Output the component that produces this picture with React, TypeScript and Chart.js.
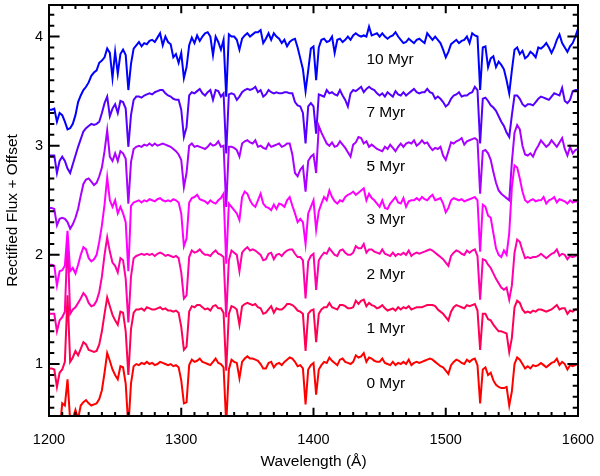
import React, { useEffect, useRef } from 'react';
import { Chart, registerables } from 'chart.js';

Chart.register(...registerables);

// Wavelength grid (Å): first sample and spacing
const LAMBDA_START = 1200;
const LAMBDA_STEP = 2;

const AGES = ['0 Myr', '1 Myr', '2 Myr', '3 Myr', '5 Myr', '7 Myr', '10 Myr'];
const OFFSETS = [0, 0.5, 1.0, 1.5, 2.0, 2.5, 3.0];
const COLORS = ['#ff0000', '#ff0055', '#ff00aa', '#ff00ff', '#aa00ff', '#5500ff', '#0000ff'];

const LABEL_X = 1440;
const LABEL_Y = [0.82, 1.32, 1.815, 2.32, 2.81, 3.3, 3.79];

const X_RANGE = [1200, 1600];
const Y_RANGE = [0.524, 4.289];
const X_TICKS = [1200, 1300, 1400, 1500, 1600];
const Y_TICKS = [1, 2, 3, 4];
const X_MINOR_STEP = 10;
const Y_MINOR_STEP = 0.1;

// Rectified flux, one value every 2 Å from 1200 to 1600 Å (rows of 20 Å)
const FLUX_0MYR = [
  0.30, 0.30, 0.30, 0.32, 0.38, 0.64, 0.62, 0.86, 0.48, 0.50,
  0.58, 0.50, 0.62, 0.65, 0.67, 0.64, 0.62, 0.63, 0.64, 0.68,
  0.76, 0.92, 1.10, 1.03, 0.95, 0.90, 0.86, 0.98, 0.97, 0.82,
  0.42, 0.82, 0.98, 1.00, 0.99, 1.01, 1.00, 1.02, 1.00, 1.01,
  0.99, 1.00, 1.02, 1.01, 1.00, 0.99, 1.00, 0.98, 0.99, 0.97,
  0.85, 0.64, 0.65, 0.99, 1.04, 1.02, 1.03, 1.05, 1.02, 1.01,
  1.00, 0.99, 1.02, 1.05, 1.01, 1.00, 0.97, 0.45, 0.95, 1.04,
  1.02, 1.01, 0.87, 1.02, 1.05, 1.07, 1.05, 1.05, 1.04, 1.03,
  1.00, 0.96, 0.96, 1.01, 1.02, 0.97, 1.00, 1.01, 0.99, 1.02,
  1.04, 1.06, 1.05, 1.02, 0.98, 0.99, 0.96, 0.63, 0.95, 0.99,
  1.01, 0.72, 0.95, 0.99, 1.02, 1.01, 1.06, 1.03, 1.01, 0.99,
  1.04, 1.05, 1.02, 1.01, 1.00, 1.02, 1.08, 1.06, 1.07, 1.10,
  1.02, 1.06, 1.05, 1.03, 1.02, 1.02, 1.05, 1.01, 1.00, 0.99,
  1.02, 0.99, 1.01, 1.00, 1.02, 1.00, 1.04, 0.99, 1.01, 1.02,
  1.01, 1.02, 1.03, 1.04, 1.05, 1.04, 1.02, 1.00, 0.98, 0.97,
  0.94, 0.91, 0.99, 1.02, 1.04, 1.03, 1.01, 1.00, 1.04, 1.02,
  1.04, 1.05, 0.99, 0.64, 0.95, 0.97, 0.90, 0.92, 0.85, 0.81,
  0.79, 0.78, 0.78, 0.79, 0.62, 0.75, 1.00, 1.06, 1.04, 1.00,
  0.96, 0.98, 0.96, 0.99, 0.98, 0.99, 1.01, 0.99, 0.97, 0.99,
  1.01, 1.02, 1.05, 0.99, 1.02, 1.00, 0.95, 0.99, 0.98, 0.99,
  1.00,
];

const FLUX_1MYR = [
  0.46, 0.46, 0.45, 0.29, 0.42, 0.45, 0.52, 1.13, 0.52, 0.56,
  0.62, 0.58, 0.64, 0.70, 0.68, 0.63, 0.62, 0.61, 0.62, 0.68,
  0.80, 0.96, 1.11, 1.03, 0.95, 0.90, 0.86, 0.98, 0.97, 0.80,
  0.40, 0.82, 0.97, 1.00, 1.00, 1.01, 0.99, 1.02, 1.01, 1.00,
  1.00, 1.01, 1.02, 1.00, 1.01, 0.99, 0.99, 0.98, 0.99, 0.97,
  0.84, 0.63, 0.66, 0.98, 1.03, 1.02, 1.04, 1.04, 1.02, 1.00,
  1.01, 0.99, 1.03, 1.04, 1.01, 1.01, 0.97, 0.44, 0.96, 1.03,
  1.02, 1.00, 0.86, 1.03, 1.05, 1.06, 1.05, 1.04, 1.05, 1.02,
  1.01, 0.96, 0.97, 1.00, 1.03, 0.97, 1.01, 1.00, 1.00, 1.02,
  1.05, 1.05, 1.04, 1.02, 0.99, 0.98, 0.96, 0.62, 0.96, 0.99,
  1.00, 0.70, 0.96, 1.00, 1.02, 1.02, 1.06, 1.02, 1.01, 1.00,
  1.04, 1.04, 1.03, 1.01, 1.01, 1.02, 1.08, 1.05, 1.08, 1.09,
  1.03, 1.06, 1.04, 1.03, 1.01, 1.02, 1.04, 1.01, 0.99, 1.00,
  1.01, 0.99, 1.02, 1.00, 1.02, 1.01, 1.03, 1.00, 1.01, 1.02,
  1.02, 1.02, 1.03, 1.04, 1.04, 1.04, 1.03, 1.00, 0.98, 0.96,
  0.93, 0.90, 0.98, 1.02, 1.04, 1.03, 1.02, 1.01, 1.04, 1.03,
  1.04, 1.05, 0.99, 0.63, 0.96, 0.96, 0.91, 0.90, 0.86, 0.83,
  0.80, 0.80, 0.79, 0.78, 0.61, 0.74, 1.02, 1.08, 1.06, 1.00,
  0.97, 0.98, 0.97, 0.99, 0.98, 1.00, 1.00, 0.99, 0.98, 0.99,
  1.00, 1.02, 1.04, 1.00, 1.01, 1.01, 0.96, 0.99, 0.98, 1.00,
  1.00,
];

const FLUX_2MYR = [
  0.46, 0.46, 0.46, 0.30, 0.40, 0.43, 0.48, 1.14, 0.46, 0.50,
  0.52, 0.56, 0.60, 0.65, 0.62, 0.56, 0.53, 0.54, 0.58, 0.66,
  0.80, 1.00, 1.16, 1.03, 0.93, 0.90, 0.84, 0.97, 0.95, 0.78,
  0.38, 0.80, 0.97, 0.99, 1.00, 1.01, 1.00, 1.01, 1.00, 1.01,
  0.99, 1.01, 1.02, 1.01, 0.99, 1.00, 0.99, 0.98, 0.99, 0.97,
  0.84, 0.60, 0.63, 0.98, 1.04, 1.02, 1.03, 1.05, 1.02, 1.00,
  1.00, 0.99, 1.02, 1.04, 1.01, 1.00, 0.98, 0.43, 0.95, 1.04,
  1.02, 1.00, 0.85, 1.02, 1.05, 1.07, 1.04, 1.05, 1.04, 1.02,
  1.00, 0.95, 0.96, 1.01, 1.02, 0.96, 1.00, 1.01, 0.99, 1.02,
  1.04, 1.05, 1.05, 1.01, 0.98, 0.98, 0.95, 0.60, 0.94, 0.99,
  1.01, 0.68, 0.95, 0.99, 1.02, 1.01, 1.06, 1.03, 1.00, 0.99,
  1.04, 1.05, 1.02, 1.00, 1.00, 1.02, 1.08, 1.06, 1.06, 1.10,
  1.02, 1.05, 1.05, 1.03, 1.02, 1.01, 1.05, 1.01, 1.00, 0.99,
  1.02, 0.99, 1.01, 1.00, 1.02, 1.00, 1.04, 0.99, 1.01, 1.02,
  1.01, 1.02, 1.03, 1.04, 1.05, 1.04, 1.02, 1.00, 0.98, 0.96,
  0.93, 0.90, 0.99, 1.02, 1.04, 1.03, 1.01, 1.00, 1.04, 1.02,
  1.04, 1.05, 0.99, 0.59, 0.96, 0.95, 0.91, 0.88, 0.83, 0.78,
  0.74, 0.70, 0.68, 0.70, 0.59, 0.72, 1.02, 1.14, 1.12, 1.04,
  0.97, 0.98, 0.97, 0.98, 0.98, 0.99, 1.01, 0.99, 0.97, 0.99,
  1.01, 1.02, 1.05, 0.99, 1.01, 1.00, 0.96, 0.99, 0.98, 0.99,
  1.00,
];

const FLUX_3MYR = [
  0.41, 0.41, 0.40, 0.22, 0.35, 0.36, 0.40, 0.72, 0.35, 0.38,
  0.33, 0.41, 0.50, 0.57, 0.55, 0.47, 0.44, 0.46, 0.50, 0.62,
  0.77, 0.96, 1.21, 1.00, 0.94, 1.00, 0.88, 0.94, 0.88, 0.80,
  0.35, 0.95, 0.98, 0.99, 1.00, 0.98, 1.00, 0.99, 1.01, 1.00,
  0.99, 1.01, 1.02, 1.00, 0.99, 1.00, 0.99, 1.01, 1.00, 0.98,
  0.88, 0.58, 0.65, 0.98, 1.02, 1.03, 1.05, 1.01, 1.00, 0.99,
  0.97, 1.00, 0.98, 0.97, 1.00, 1.02, 1.06, 0.42, 0.97, 0.94,
  0.91, 0.88, 0.82, 1.03, 1.08, 1.06, 1.00, 0.96, 0.94, 1.00,
  1.06, 0.97, 0.94, 0.93, 0.91, 0.96, 0.92, 0.97, 0.96, 0.94,
  1.00, 1.03, 0.95, 0.88, 0.80, 0.83, 0.80, 0.60, 0.88, 0.94,
  1.00, 0.73, 0.90, 0.97, 1.03, 1.00, 1.09, 1.03, 0.99, 0.97,
  1.00, 0.99, 1.03, 1.05, 1.06, 1.08, 1.05, 1.07, 1.09, 1.11,
  1.00, 1.06, 1.02, 1.00, 0.97, 0.94, 1.00, 0.93, 0.92, 0.97,
  1.00, 1.03, 0.98, 0.97, 1.02, 0.94, 0.99, 1.00, 1.00, 1.02,
  1.00, 1.03, 1.01, 1.00, 1.03, 1.05, 1.00, 1.01, 1.02, 0.97,
  0.89, 0.93, 1.00, 1.02, 1.01, 1.00, 1.01, 0.99, 1.00, 1.01,
  1.02, 1.03, 1.00, 0.53, 0.96, 0.94, 0.86, 0.84, 0.70, 0.56,
  0.50, 0.48, 0.54, 0.50, 0.70, 1.12, 1.32, 1.30, 1.20, 1.08,
  1.00, 0.98, 1.00, 1.01, 0.99, 1.00, 1.00, 1.03, 0.97, 1.00,
  1.01, 1.03, 0.98, 1.01, 1.00, 0.99, 0.97, 1.00, 0.98, 0.99,
  0.99,
];

const FLUX_5MYR = [
  0.43, 0.43, 0.42, 0.27, 0.33, 0.34, 0.33, 0.30, 0.24, 0.28,
  0.34, 0.42, 0.54, 0.65, 0.69, 0.70, 0.67, 0.64, 0.66, 0.72,
  0.80, 0.95, 1.14, 0.90, 0.86, 0.93, 0.86, 0.95, 0.93, 0.88,
  0.47, 0.85, 0.97, 0.99, 1.00, 0.99, 1.01, 1.00, 1.02, 1.00,
  1.02, 1.00, 1.01, 1.02, 1.01, 1.00, 0.99, 0.97, 0.95, 0.92,
  0.87, 0.62, 0.75, 1.00, 1.02, 0.99, 1.00, 0.99, 0.98, 0.97,
  0.99, 1.02, 1.00, 1.01, 1.04, 0.99, 1.00, 0.44, 0.99, 0.99,
  0.98, 0.96, 0.90, 1.02, 1.04, 1.05, 1.03, 1.02, 1.05, 0.99,
  1.00, 0.98, 0.97, 1.02, 0.99, 1.00, 1.01, 1.02, 0.99, 1.00,
  1.02, 1.02, 0.92, 0.75, 0.72, 0.78, 0.81, 0.58, 0.86, 0.90,
  0.92, 0.75, 1.18, 1.12, 1.07, 1.02, 1.00, 1.03, 0.99, 1.00,
  1.04, 1.01, 0.98, 0.94, 0.90, 1.01, 1.03, 1.08, 1.07, 1.02,
  1.04, 0.99, 1.01, 0.99, 0.97, 0.96, 0.95, 0.99, 0.97, 1.01,
  0.98, 0.95, 0.99, 1.02, 0.99, 1.02, 1.03, 1.02, 1.05, 1.00,
  1.02, 1.05, 1.02, 1.03, 0.99, 0.96, 0.98, 0.97, 0.99, 0.91,
  0.87, 0.95, 1.03, 1.02, 1.04, 1.05, 1.07, 1.01, 1.04, 1.05,
  1.06, 1.07, 1.05, 0.56, 0.95, 0.96, 0.93, 0.87, 0.76, 0.66,
  0.59, 0.56, 0.54, 0.52, 0.50, 0.85, 1.12, 1.19, 1.15, 1.00,
  0.92, 0.91, 0.93, 0.90, 0.96, 1.00, 1.05, 1.02, 0.99, 1.01,
  1.05, 1.02, 0.99, 1.03, 1.07, 0.97, 0.91, 0.99, 0.93, 0.96,
  0.97,
];

const FLUX_7MYR = [
  0.41, 0.41, 0.41, 0.25, 0.36, 0.40, 0.36, 0.29, 0.25, 0.33,
  0.41, 0.49, 0.56, 0.63, 0.66, 0.68, 0.70, 0.69, 0.70, 0.72,
  0.80, 0.89, 0.95, 0.77, 0.84, 0.88, 0.80, 0.91, 0.90, 0.84,
  0.49, 0.78, 0.92, 0.95, 0.95, 0.94, 0.96, 0.97, 0.98, 0.97,
  0.99, 1.00, 1.01, 1.01, 0.98, 0.96, 0.95, 0.93, 0.92, 0.92,
  0.83, 0.58, 0.67, 0.96, 0.99, 0.98, 1.00, 1.02, 0.98, 0.96,
  0.99, 1.01, 0.92, 1.01, 1.00, 0.95, 0.98, 0.43, 0.97, 0.98,
  0.97, 0.92, 0.95, 0.99, 1.01, 1.02, 1.01, 1.02, 1.04, 0.99,
  1.01, 0.95, 0.97, 1.01, 0.99, 0.98, 0.99, 0.98, 0.98, 0.99,
  0.99, 0.98, 0.98, 0.90, 0.87, 0.86, 0.80, 0.52, 0.86, 0.89,
  0.86, 0.61, 0.97, 0.96, 0.95, 1.01, 0.98, 0.99, 0.97, 0.96,
  1.01, 0.96, 0.92, 0.86, 0.98, 1.01, 1.00, 1.02, 1.04, 0.99,
  1.02, 1.04, 1.02, 1.01, 0.98, 0.96, 0.98, 0.95, 0.99, 0.97,
  0.95, 1.00, 0.97, 0.96, 0.99, 0.96, 0.98, 1.00, 1.02, 0.99,
  0.98, 0.99, 0.99, 1.02, 0.99, 0.98, 0.93, 0.95, 0.93, 0.90,
  0.86, 0.88, 0.93, 0.96, 0.97, 0.99, 0.95, 0.96, 0.96, 0.98,
  0.99, 1.04, 1.01, 0.52, 0.93, 0.94, 0.91, 0.87, 0.85, 0.82,
  0.77, 0.72, 0.68, 0.62, 0.58, 0.78, 0.96, 0.96, 0.93, 0.88,
  0.86, 0.88, 0.88, 0.87, 0.90, 0.93, 0.95, 0.94, 0.93, 0.92,
  0.95, 0.98, 0.97, 0.96, 1.03, 0.91, 0.89, 0.92, 1.00, 1.01,
  1.01,
];

const FLUX_10MYR = [
  0.33, 0.33, 0.34, 0.22, 0.30, 0.28, 0.22, 0.15, 0.16, 0.20,
  0.28, 0.40, 0.46, 0.51, 0.54, 0.58, 0.64, 0.67, 0.69, 0.76,
  0.78, 0.81, 0.89, 0.85, 0.62, 0.86, 0.66, 0.84, 0.88, 0.83,
  0.51, 0.75, 0.89, 0.92, 0.95, 0.91, 0.94, 0.93, 0.96, 0.97,
  0.95, 0.99, 1.03, 0.92, 1.00, 0.95, 0.93, 0.81, 0.84, 0.76,
  0.85, 0.62, 0.72, 0.92, 0.99, 0.94, 1.01, 0.96, 1.00, 1.03,
  1.04, 1.00, 0.83, 1.00, 0.95, 0.88, 0.97, 0.45, 1.02, 1.00,
  1.00, 0.97, 0.88, 0.98, 1.01, 1.03, 1.00, 1.02, 1.04, 1.04,
  1.06, 0.94, 0.98, 1.03, 0.97, 1.03, 1.00, 0.98, 0.94, 0.97,
  0.91, 0.95, 0.97, 0.98, 0.90, 0.80, 0.70, 0.50, 0.69, 0.89,
  0.91, 0.60, 0.90, 0.97, 0.98, 0.95, 0.96, 1.00, 0.85, 0.97,
  0.98, 0.95, 0.97, 1.00, 0.97, 1.01, 1.03, 1.01, 1.00, 1.01,
  1.00, 1.09, 1.01, 1.02, 1.03, 1.00, 1.03, 1.00, 0.98, 1.00,
  1.01, 1.04, 1.00, 0.97, 0.94, 0.95, 0.98, 0.96, 0.94, 0.97,
  0.98, 0.96, 0.94, 1.03, 1.00, 0.97, 1.00, 0.97, 0.94, 0.88,
  0.81, 0.86, 0.93, 0.95, 0.97, 0.94, 0.96, 0.97, 1.00, 0.94,
  1.03, 1.01, 1.00, 0.51, 0.90, 0.91, 0.72, 0.80, 0.82, 0.72,
  0.77, 0.74, 0.70, 0.60, 0.48, 0.69, 0.88, 0.90, 0.84, 0.87,
  0.80, 0.82, 0.86, 0.84, 0.81, 0.90, 0.89, 0.91, 0.94, 0.90,
  0.85, 0.90, 0.97, 1.02, 0.94, 0.90, 0.86, 0.91, 0.94, 1.00,
  1.07,
];

const SERIES = [FLUX_0MYR, FLUX_1MYR, FLUX_2MYR, FLUX_3MYR, FLUX_5MYR, FLUX_7MYR, FLUX_10MYR];

const FONT_FAMILY = "'Liberation Sans', Arial, Helvetica, sans-serif";

const framePlugin = {
  id: 'idlFrame',
  afterDatasetsDraw(chart: any) {
    const { ctx, chartArea } = chart;
    const { left, right, top, bottom } = chartArea;
    const xs = chart.scales.x;
    const ys = chart.scales.y;
    const w = right - left;
    const h = bottom - top;
    const yMajor = 0.02 * w;
    const xMajor = 0.02 * h;
    ctx.save();
    ctx.strokeStyle = '#000';
    ctx.lineWidth = 2;
    ctx.beginPath();
    // y ticks (left & right)
    const yMinStep = Math.ceil(Y_RANGE[0] / Y_MINOR_STEP - 1e-6);
    const yMaxStep = Math.floor(Y_RANGE[1] / Y_MINOR_STEP + 1e-6);
    for (let i = yMinStep; i <= yMaxStep; i++) {
      const v = i * Y_MINOR_STEP;
      const isMajor = Y_TICKS.some((t) => Math.abs(t - v) < 1e-6);
      const len = isMajor ? yMajor : yMajor / 2;
      const py = ys.getPixelForValue(v);
      ctx.moveTo(left, py);
      ctx.lineTo(left + len, py);
      ctx.moveTo(right, py);
      ctx.lineTo(right - len, py);
    }
    // x ticks (bottom & top)
    for (let v = X_RANGE[0]; v <= X_RANGE[1]; v += X_MINOR_STEP) {
      const isMajor = X_TICKS.includes(v);
      const len = isMajor ? xMajor : xMajor / 2;
      const px = xs.getPixelForValue(v);
      ctx.moveTo(px, bottom);
      ctx.lineTo(px, bottom - len);
      ctx.moveTo(px, top);
      ctx.lineTo(px, top + len);
    }
    ctx.stroke();
    ctx.lineWidth = 2;
    ctx.strokeRect(left, top, w, h);

    // age labels
    ctx.fillStyle = '#000';
    ctx.font = `15.5px ${FONT_FAMILY}`;
    ctx.textAlign = 'left';
    ctx.textBaseline = 'middle';
    AGES.forEach((age, k) => {
      ctx.fillText(age, xs.getPixelForValue(LABEL_X), ys.getPixelForValue(LABEL_Y[k]));
    });
    ctx.restore();
  },
};

const zeroPad = (s: any) => {
  s.paddingTop = 0;
  s.paddingBottom = 0;
  s.paddingLeft = 0;
  s.paddingRight = 0;
};

export default function App() {
  const canvasRef = useRef<HTMLCanvasElement | null>(null);

  useEffect(() => {
    if (!canvasRef.current) return;
    const datasets = SERIES.map((flux, k) => ({
      label: AGES[k],
      data: flux.map((v, i) => ({ x: LAMBDA_START + i * LAMBDA_STEP, y: v + OFFSETS[k] })),
      borderColor: COLORS[k],
      backgroundColor: COLORS[k],
      borderWidth: 2,
      pointRadius: 0,
      tension: 0,
      fill: false,
      clip: 0,
      order: SERIES.length - k,
    }));

    const chart = new Chart(canvasRef.current, {
      type: 'line',
      data: { datasets },
      options: {
        animation: false,
        responsive: false,
        devicePixelRatio: 1,
        layout: { padding: { top: 5, right: 22, bottom: 0, left: 0 } },
        plugins: { legend: { display: false }, tooltip: { enabled: false } },
        scales: {
          x: {
            type: 'linear',
            min: X_RANGE[0],
            max: X_RANGE[1],
            grid: { display: false, drawTicks: false },
            border: { display: false },
            ticks: {
              color: '#000',
              font: { family: FONT_FAMILY, size: 14.5 },
              padding: 15,
              autoSkip: false,
              maxRotation: 0,
              callback: (v: any) => String(v),
            },
            afterBuildTicks: (s: any) => {
              s.ticks = X_TICKS.map((v) => ({ value: v }));
            },
            afterFit: (s: any) => {
              s.height = 60;
              zeroPad(s);
            },
            title: {
              display: true,
              text: 'Wavelength (Å)',
              color: '#000',
              font: { family: FONT_FAMILY, size: 15.5 },
              padding: { top: 0, bottom: 5 },
            },
          },
          y: {
            type: 'linear',
            min: Y_RANGE[0],
            max: Y_RANGE[1],
            grid: { display: false, drawTicks: false },
            border: { display: false },
            ticks: {
              color: '#000',
              font: { family: FONT_FAMILY, size: 14.5 },
              padding: 6,
              autoSkip: false,
              callback: (v: any) => String(v),
            },
            afterBuildTicks: (s: any) => {
              s.ticks = Y_TICKS.map((v) => ({ value: v }));
            },
            afterFit: (s: any) => {
              s.width = 49;
              zeroPad(s);
            },
            title: {
              display: true,
              text: 'Rectified Flux + Offset',
              color: '#000',
              font: { family: FONT_FAMILY, size: 15.5 },
              padding: { top: 3, bottom: 0 },
            },
          },
        },
      },
      plugins: [framePlugin],
    } as any);

    return () => chart.destroy();
  }, []);

  return (
    <div style={{ position: 'absolute', left: 0, top: 0, width: 600, height: 476, background: '#fff' }}>
      <canvas ref={canvasRef} width={600} height={476} />
    </div>
  );
}
